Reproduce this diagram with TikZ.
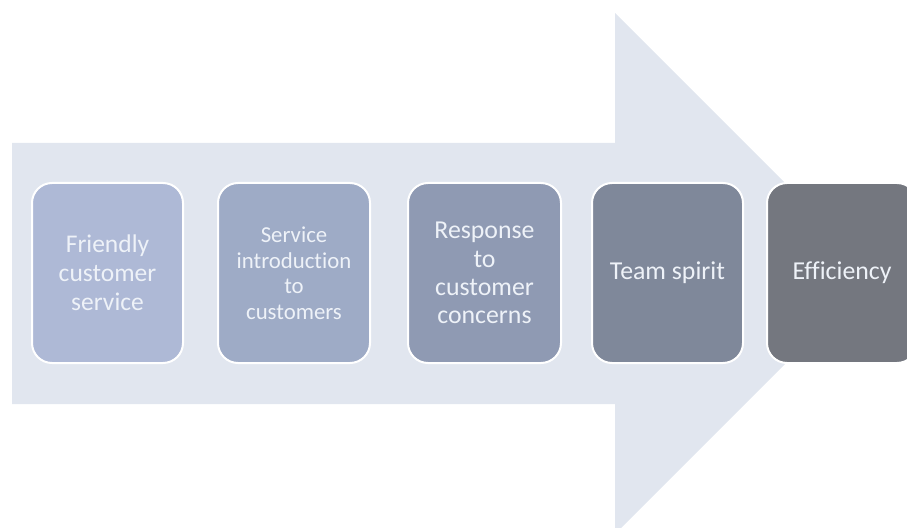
\documentclass[tikz,border=0pt]{standalone}
\usepackage{fontspec}
\setmainfont{Carlito}[Ligatures=NoCommon]
\definecolor{arrowfill}{HTML}{E1E6EF}
\definecolor{stepA}{HTML}{AEB9D6}
\definecolor{stepB}{HTML}{9EABC6}
\definecolor{stepC}{HTML}{8F9AB3}
\definecolor{stepD}{HTML}{7F889A}
\definecolor{stepE}{HTML}{74777F}
\definecolor{labeltext}{HTML}{EEF2F8}
\begin{document}
\begin{tikzpicture}[x=1bp,y=-1bp,
  stepbox/.style={draw=white, line width=2bp, rounded corners=20bp},
  steplabel/.style={text=labeltext, align=center, inner sep=0pt}]
\useasboundingbox (0,0) rectangle (907,528);
\clip (0,0) rectangle (907,528);
% large background arrow
\fill[arrowfill] (12,143) -- (615,143) -- (615,13) -- (875.5,273.5)
  -- (615,534) -- (615,404) -- (12,404) -- cycle;
% step boxes
\draw[stepbox, fill=stepA] (32,183) rectangle (183,363);
\node[steplabel, font=\fontsize{25.5bp}{29bp}\selectfont] (s1) at (107.5,273) {Friendly\\customer\\service};
\draw[stepbox, fill=stepB] (218,183) rectangle (370,363);
\node[steplabel, font=\fontsize{22.8bp}{25.5bp}\selectfont] (s2) at (294,273) {Service\\introduction\\to\\customers};
\draw[stepbox, fill=stepC] (408,183) rectangle (561,363);
\node[steplabel, font=\fontsize{25.8bp}{28.3bp}\selectfont] (s3) at (484.5,273) {Response\\to\\customer\\concerns};
\draw[stepbox, fill=stepD] (592,183) rectangle (743,363);
\node[steplabel, font=\fontsize{25.8bp}{29bp}\selectfont] (s4) at (667.5,273) {Team spirit};
\draw[stepbox, fill=stepE] (767,183) rectangle (917,363);
\node[steplabel, font=\fontsize{25.8bp}{29bp}\selectfont] (s5) at (842,273) {Efficiency};
\end{tikzpicture}
\end{document}
